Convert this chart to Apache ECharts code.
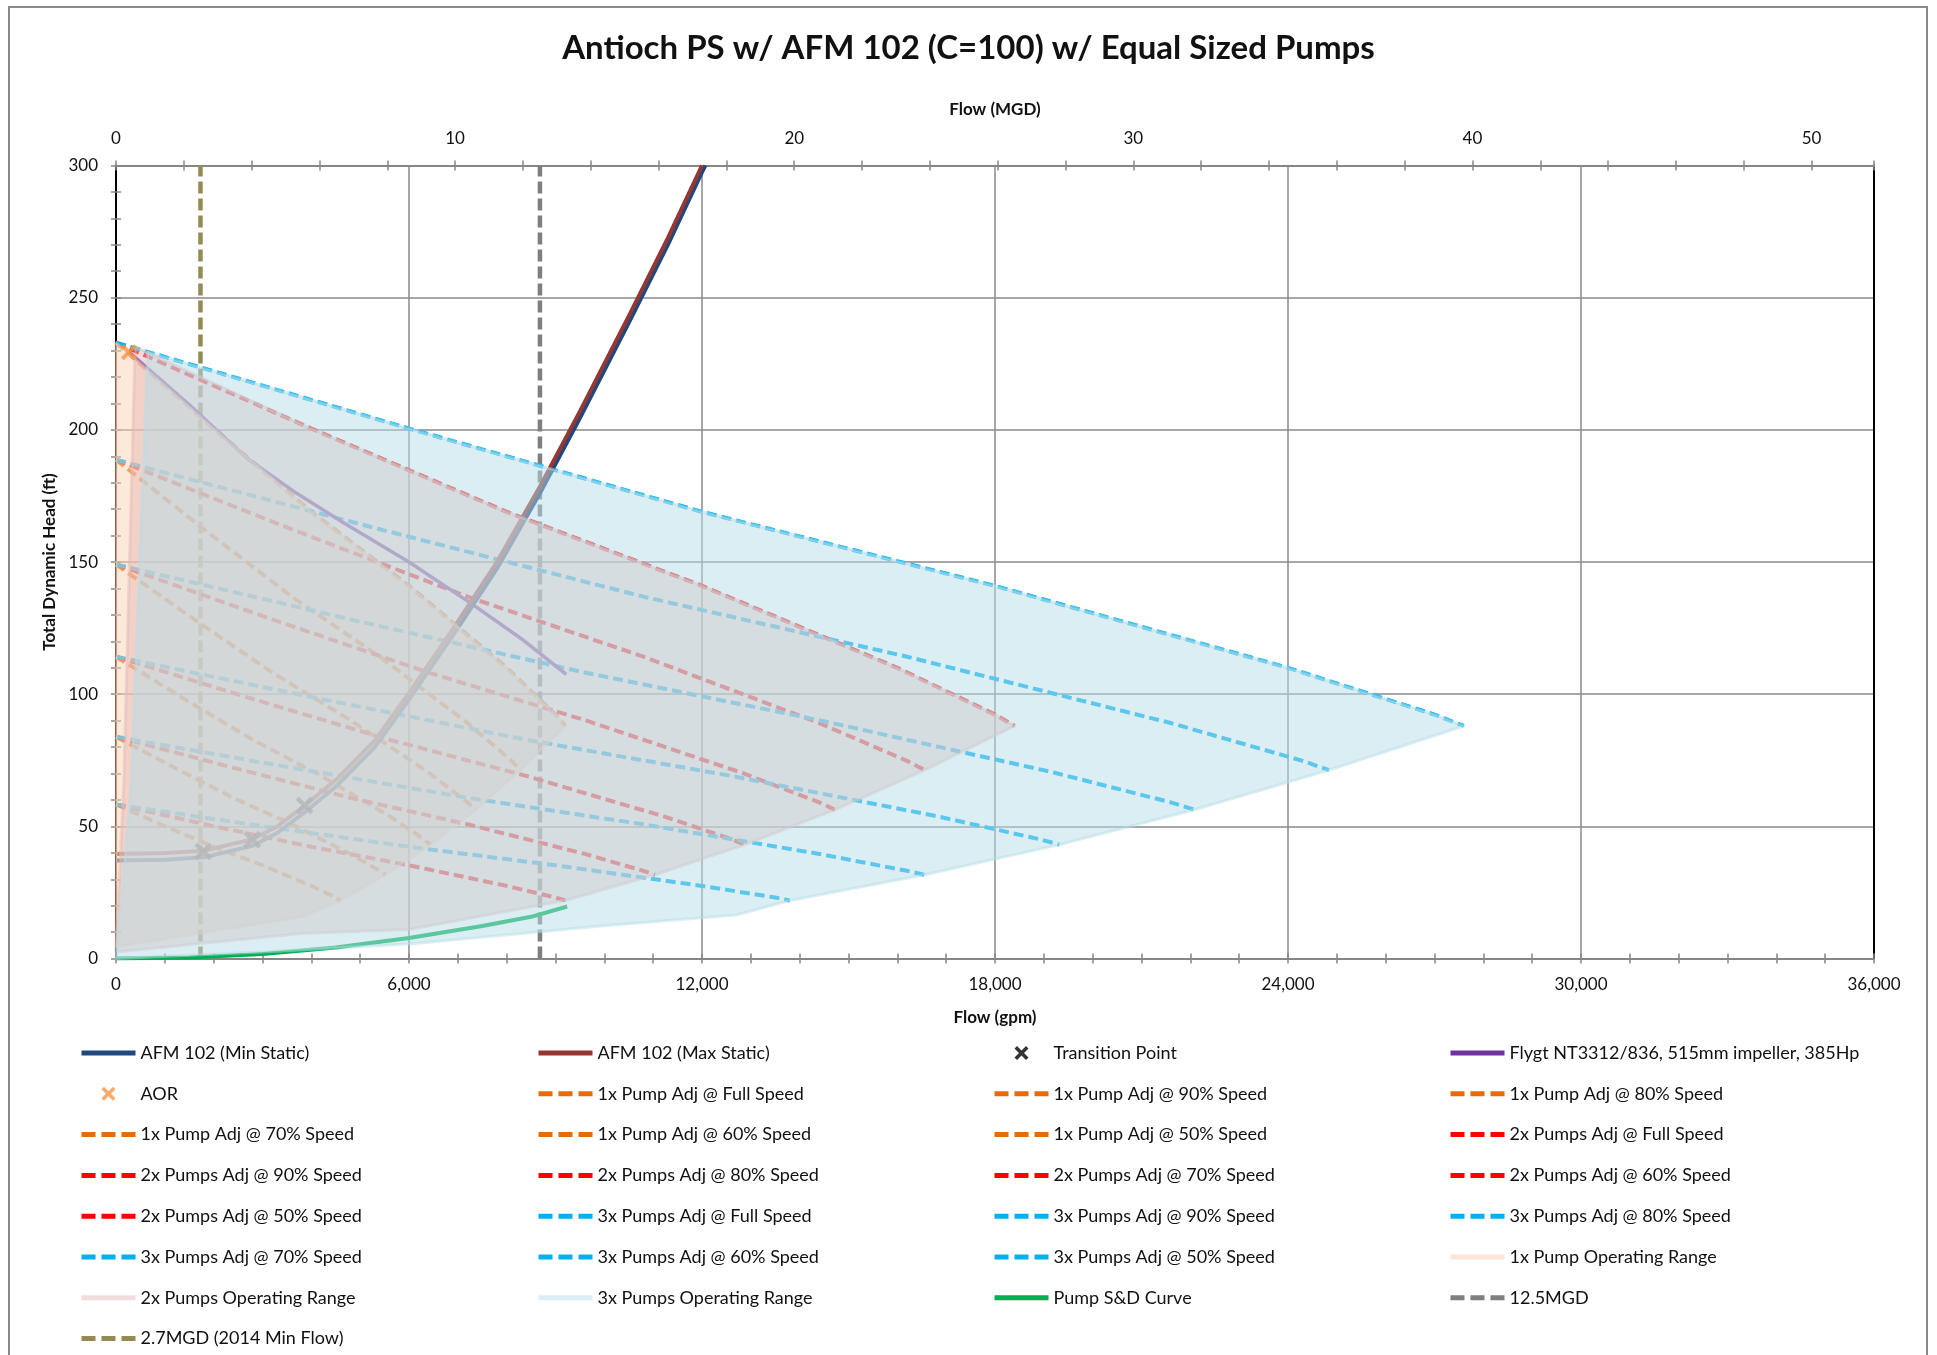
<!DOCTYPE html>
<html>
<head>
<meta charset="utf-8">
<title>Antioch PS w/ AFM 102 (C=100) w/ Equal Sized Pumps</title>
<script src="https://cdn.jsdelivr.net/npm/echarts@6.0.0/dist/echarts.min.js"></script>
<style>
  html, body { margin: 0; padding: 0; background: #fff; }
  #chart { width: 1937px; height: 1355px; }
</style>
</head>
<body>
<div id="chart"></div>
<script>
const FONT = 'Lato, "Noto Sans", sans-serif';

// ---------- axis ticks ----------
const gpmTicks  = [0, 6000, 12000, 18000, 24000, 30000, 36000];
const mgdTicks  = [0, 10, 20, 30, 40, 50];
const mgdMax    = 51.84;            // 36,000 gpm expressed in MGD
const headTicks = [0, 50, 100, 150, 200, 250, 300];

// ---------- system curves (flow gpm / head ft) ----------
const sysMaxFlow = [0, 1000, 1800, 2800, 3300, 3860, 4500, 5300, 6000, 7000, 7800, 8680, 9500, 10500, 11300, 12000];
const sysMaxHead = [39.6, 39.9, 40.8, 45.2, 50, 57.8, 67.5, 82.5, 100.5, 127.5, 150, 178.5, 207, 243, 272.5, 300];
const sysMinFlow = [0, 1000, 1800, 2800, 3300, 3860, 4500, 5300, 6000, 7000, 7800, 8680, 9500, 10500, 11300, 12000, 12070];
const sysMinHead = [37.1, 37.4, 38.3, 42.7, 47.5, 55.3, 65, 80, 98, 125, 147.5, 176, 204.5, 240.5, 270, 297.5, 300];

const transitionPts = [[1790, 40.5], [2790, 45], [3862, 57.9]];
const aorPts = [[265, 229.4]];

// Flygt NT3312/836 catalogue curve
const flygtFlow = [265, 1500, 2700, 3700, 4650, 6000, 7300, 8300, 9220];
const flygtHead = [229.4, 209.5, 189, 176, 165, 150, 134, 121, 107.5];

// Pump S&D curve
const sdFlow = [0, 1500, 3000, 4500, 6000, 7500, 8500, 9240];
const sdHead = [0, 0.4, 1.7, 4.2, 7.8, 12.3, 15.8, 19.7];

// Reference flows
const flow125mgd = 8681;
const flow27mgd = 1730;

// ---------- adjusted pump curves: head at each speed ----------
const headFull = [233, 200.5, 169, 141, 110, 92.3, 88];
const head90   = [188.7, 162.4, 136.9, 114.2, 89.1, 74.8, 71.3];
const head80   = [149.1, 128.3, 108.2, 90.2, 70.4, 59.1, 56.3];
const head70   = [114.2, 98.2, 82.8, 69.1, 53.9, 45.2, 43.1];
const head60   = [83.9, 72.2, 60.8, 50.8, 39.6, 33.2, 31.7];
const head50   = [58.3, 50.1, 42.3, 35.3, 27.5, 23.1, 22.0];

// flows for one pump
const flow1xFull = [0, 2000, 4000, 6000, 8000, 9000, 9200];
const flow1x90   = [0, 1800, 3600, 5400, 7200, 8100, 8280];
const flow1x80   = [0, 1600, 3200, 4800, 6400, 7200, 7360];
const flow1x70   = [0, 1400, 2800, 4200, 5600, 6300, 6440];
const flow1x60   = [0, 1200, 2400, 3600, 4800, 5400, 5520];
const flow1x50   = [0, 1000, 2000, 3000, 4000, 4500, 4600];
// flows for two pumps
const flow2xFull = [0, 4000, 8000, 12000, 16000, 18000, 18400];
const flow2x90   = [0, 3600, 7200, 10800, 14400, 16200, 16560];
const flow2x80   = [0, 3200, 6400, 9600, 12800, 14400, 14720];
const flow2x70   = [0, 2800, 5600, 8400, 11200, 12600, 12880];
const flow2x60   = [0, 2400, 4800, 7200, 9600, 10800, 11040];
const flow2x50   = [0, 2000, 4000, 6000, 8000, 9000, 9200];
// flows for three pumps
const flow3xFull = [0, 6000, 12000, 18000, 24000, 27000, 27600];
const flow3x90   = [0, 5400, 10800, 16200, 21600, 24300, 24840];
const flow3x80   = [0, 4800, 9600, 14400, 19200, 21600, 22080];
const flow3x70   = [0, 4200, 8400, 12600, 16800, 18900, 19320];
const flow3x60   = [0, 3600, 7200, 10800, 14400, 16200, 16560];
const flow3x50   = [0, 3000, 6000, 9000, 12000, 13500, 13800];

// ---------- operating range outlines ----------
const range1x = [[0, 233], [2000, 200.5], [4000, 169], [6000, 141], [8000, 110], [9000, 92.3], [9200, 88],
  [8280, 71.3], [7360, 56.3], [6440, 43.1], [5520, 31.7], [4600, 22], [3800, 15.8], [0, 4.5]];
const range2x = [[390, 231.5], [4000, 200.5], [8000, 169], [12000, 141], [16000, 110], [18000, 92.3], [18400, 88],
  [16560, 71.3], [14720, 56.3], [12880, 43.1], [11040, 31.7], [9200, 22], [6000, 11], [3800, 9.5], [0, 2.5], [160, 67]];
const range3x = [[650, 229.5], [6000, 200.5], [12000, 169], [18000, 141], [24000, 110], [27000, 92.3], [27600, 88],
  [24840, 71.3], [22080, 56.3], [19320, 43.1], [16560, 31.7], [13800, 22], [12700, 16.5], [10000, 12.4],
  [6000, 5.5], [3000, 2.5], [0, 0], [320, 67]];

// ---------- legend columns ----------
const legendCol1 = ['AFM 102 (Min Static)', 'AOR', '1x Pump Adj @ 70% Speed', '2x Pumps Adj @ 90% Speed',
  '2x Pumps Adj @ 50% Speed', '3x Pumps Adj @ 70% Speed', '2x Pumps Operating Range', '2.7MGD (2014 Min Flow)'];
const legendCol2 = ['AFM 102 (Max Static)', '1x Pump Adj @ Full Speed', '1x Pump Adj @ 60% Speed', '2x Pumps Adj @ 80% Speed',
  '3x Pumps Adj @ Full Speed', '3x Pumps Adj @ 60% Speed', '3x Pumps Operating Range'];
const legendCol3 = ['Transition Point', '1x Pump Adj @ 90% Speed', '1x Pump Adj @ 50% Speed', '2x Pumps Adj @ 70% Speed',
  '3x Pumps Adj @ 90% Speed', '3x Pumps Adj @ 50% Speed', 'Pump S&D Curve'];
const legendCol4 = ['Flygt NT3312/836, 515mm impeller, 385Hp', '1x Pump Adj @ 80% Speed', '2x Pumps Adj @ Full Speed',
  '2x Pumps Adj @ 60% Speed', '3x Pumps Adj @ 80% Speed', '1x Pump Operating Range', '12.5MGD'];

// ---------- styling ----------
const ORANGE = '#E46C0A', RED = '#FF0000', BLUE = '#00B0F0';
const GRID_GREY = '#8a8a8a';
const X_MARK = 'path://M0,2.5L2.5,0L7,4.5L11.5,0L14,2.5L9.5,7L14,11.5L11.5,14L7,9.5L2.5,14L0,11.5L4.5,7Z';

const zip = (xs, ys) => xs.map((x, i) => [x, ys[i]]);
const dashedNames = new Set();
const markerNames = new Set(['Transition Point', 'AOR']);

function lineSeries(name, data, color, width, dash) {
  if (dash) dashedNames.add(name);
  return {
    type: 'line', name, data, symbol: 'none', silent: true, z: 2,
    lineStyle: { color, width, type: dash || 'solid', cap: 'butt', join: 'round' },
    itemStyle: { color }
  };
}

function rangeFill(name, poly, fill) {
  return {
    type: 'custom', name, z: 4, silent: true,
    data: poly,
    encode: { x: 0, y: 1 },
    renderItem: (params, api) => {
      if (params.dataIndex !== 0) return;
      const pts = poly.map(p => api.coord(p));
      return {
        type: 'polygon',
        shape: { points: pts },
        style: { fill: fill, stroke: fill, lineWidth: 3, lineJoin: 'round' }
      };
    }
  };
}

const PUMP_DASH = [10, 5];
const pumpSpecs = [
  ['1x Pump Adj @ Full Speed', flow1xFull, headFull, ORANGE],
  ['1x Pump Adj @ 90% Speed',  flow1x90,   head90,   ORANGE],
  ['1x Pump Adj @ 80% Speed',  flow1x80,   head80,   ORANGE],
  ['1x Pump Adj @ 70% Speed',  flow1x70,   head70,   ORANGE],
  ['1x Pump Adj @ 60% Speed',  flow1x60,   head60,   ORANGE],
  ['1x Pump Adj @ 50% Speed',  flow1x50,   head50,   ORANGE],
  ['2x Pumps Adj @ Full Speed', flow2xFull, headFull, RED],
  ['2x Pumps Adj @ 90% Speed',  flow2x90,   head90,   RED],
  ['2x Pumps Adj @ 80% Speed',  flow2x80,   head80,   RED],
  ['2x Pumps Adj @ 70% Speed',  flow2x70,   head70,   RED],
  ['2x Pumps Adj @ 60% Speed',  flow2x60,   head60,   RED],
  ['2x Pumps Adj @ 50% Speed',  flow2x50,   head50,   RED],
  ['3x Pumps Adj @ Full Speed', flow3xFull, headFull, BLUE],
  ['3x Pumps Adj @ 90% Speed',  flow3x90,   head90,   BLUE],
  ['3x Pumps Adj @ 80% Speed',  flow3x80,   head80,   BLUE],
  ['3x Pumps Adj @ 70% Speed',  flow3x70,   head70,   BLUE],
  ['3x Pumps Adj @ 60% Speed',  flow3x60,   head60,   BLUE],
  ['3x Pumps Adj @ 50% Speed',  flow3x50,   head50,   BLUE]
];

const series = [
  lineSeries('12.5MGD', [[flow125mgd, headTicks[0]], [flow125mgd, headTicks[headTicks.length - 1]]], '#7F7F7F', 4.5, [12, 5]),
  lineSeries('2.7MGD (2014 Min Flow)', [[flow27mgd, headTicks[0]], [flow27mgd, headTicks[headTicks.length - 1]]], '#948A54', 4.5, [12, 5]),
  lineSeries('Pump S&D Curve', zip(sdFlow, sdHead), '#00B050', 4),
  ...pumpSpecs.map(([n, f, h, c]) => lineSeries(n, zip(f, h), c, 4, PUMP_DASH)),
  lineSeries('Flygt NT3312/836, 515mm impeller, 385Hp', zip(flygtFlow, flygtHead), '#7030A0', 3.5),
  lineSeries('AFM 102 (Min Static)', zip(sysMinFlow, sysMinHead), '#1F497D', 4),
  lineSeries('AFM 102 (Max Static)', zip(sysMaxFlow, sysMaxHead), '#953735', 4),
  {
    type: 'scatter', name: 'Transition Point', data: transitionPts, symbol: X_MARK, symbolSize: 18,
    itemStyle: { color: '#000' }, z: 3, silent: true
  },
  {
    type: 'scatter', name: 'AOR', data: aorPts, symbol: X_MARK, symbolSize: 16,
    itemStyle: { color: '#F79646' }, z: 5, silent: true
  },
  // legend swatches for the operating ranges
  lineSeries('1x Pump Operating Range', [], '#FCE4D6', 6),
  lineSeries('2x Pumps Operating Range', [], '#F2DCDB', 6),
  lineSeries('3x Pumps Operating Range', [], '#DAEEF3', 6),
  rangeFill('1x Pump Operating Range', range1x, 'rgba(251,212,180,0.5)'),
  rangeFill('2x Pumps Operating Range', range2x, 'rgba(230,185,184,0.5)'),
  rangeFill('3x Pumps Operating Range', range3x, 'rgba(183,222,232,0.5)')
];

function legendItem(name) {
  if (markerNames.has(name)) return { name };
  const item = { name, itemStyle: { opacity: 0 } };
  if (dashedNames.has(name)) item.lineStyle = { type: [14, 6], cap: 'butt', width: 5 };
  else item.lineStyle = { width: 5 };
  return item;
}

const ROW_PITCH = 40.8, ITEM_H = 22;
function legendColumn(left, names) {
  return {
    orient: 'vertical', left, top: 1042, height: 360,
    itemWidth: 54, itemHeight: 14, itemGap: ROW_PITCH - ITEM_H,
    selectedMode: false, padding: 0,
    lineStyle: { width: 'inherit' },
    textStyle: { fontFamily: FONT, fontSize: 18, color: '#111', lineHeight: ITEM_H },
    data: names.map(legendItem)
  };
}

const tickStyle = { color: '#868686', width: 1.5 };
const labelStyle = { fontFamily: FONT, fontSize: 17, color: '#111' };
const nameStyle = { fontFamily: FONT, fontSize: 17, fontWeight: 'bold', color: '#111' };
const gridRect = { left: 116, top: 165.5, right: 63, bottom: 396.4 };

const option = {
  animation: false,
  backgroundColor: '#fff',
  title: {
    text: 'Antioch PS w/ AFM 102 (C=100) w/ Equal Sized Pumps',
    left: 'center', top: 27,
    textStyle: { fontFamily: FONT, fontSize: 33, fontWeight: 'bold', color: '#111' }
  },
  graphic: [{
    type: 'rect', silent: true, z: -10,
    shape: { x: 9, y: 7, width: 1918, height: 1370 },
    style: { fill: 'none', stroke: '#898989', lineWidth: 2 }
  }],
  legend: [
    legendColumn(79, legendCol1),
    legendColumn(536, legendCol2),
    legendColumn(992, legendCol3),
    legendColumn(1448, legendCol4)
  ],
  grid: [
    Object.assign({ containLabel: false }, gridRect),
    Object.assign({ containLabel: false }, gridRect)
  ],
  xAxis: [
    {
      type: 'value', gridIndex: 0, position: 'bottom',
      min: gpmTicks[0], max: gpmTicks[gpmTicks.length - 1], interval: gpmTicks[1] - gpmTicks[0],
      name: 'Flow (gpm)', nameLocation: 'middle', nameGap: 50, nameTextStyle: nameStyle,
      axisLine: { onZero: false, lineStyle: { color: '#868686', width: 2 } },
      axisTick: { show: true, inside: false, length: 5, lineStyle: tickStyle },
      minorTick: { show: true, splitNumber: 6, length: 5, lineStyle: tickStyle },
      axisLabel: Object.assign({ margin: 17 }, labelStyle),
      splitLine: { show: true, lineStyle: { color: GRID_GREY, width: 1.5 } }
    },
    {
      type: 'value', gridIndex: 0, position: 'top',
      min: mgdTicks[0], max: mgdMax, interval: mgdTicks[1] - mgdTicks[0],
      name: 'Flow (MGD)', nameLocation: 'middle', nameGap: 47, nameTextStyle: nameStyle,
      axisLine: { onZero: false, lineStyle: { color: '#868686', width: 2 } },
      axisTick: { show: true, inside: false, length: 5, lineStyle: tickStyle },
      minorTick: { show: true, splitNumber: 5, length: 5, lineStyle: tickStyle },
      axisLabel: Object.assign({
        margin: 18,
        formatter: v => (mgdTicks.indexOf(v) >= 0 ? String(v) : '')
      }, labelStyle),
      splitLine: { show: false }
    },
    // inner halves of the crossing tick marks
    {
      type: 'value', gridIndex: 1, position: 'bottom',
      min: gpmTicks[0], max: gpmTicks[gpmTicks.length - 1], interval: gpmTicks[1] - gpmTicks[0],
      axisLine: { show: false, onZero: false },
      axisTick: { show: true, inside: true, length: 5, lineStyle: tickStyle },
      minorTick: { show: true, splitNumber: 6, length: 5, lineStyle: tickStyle },
      axisLabel: { show: false }, splitLine: { show: false }
    },
    {
      type: 'value', gridIndex: 1, position: 'top',
      min: mgdTicks[0], max: mgdMax, interval: mgdTicks[1] - mgdTicks[0],
      axisLine: { show: false, onZero: false },
      axisTick: { show: true, inside: true, length: 5, lineStyle: tickStyle },
      minorTick: { show: true, splitNumber: 5, length: 5, lineStyle: tickStyle },
      axisLabel: { show: false }, splitLine: { show: false }
    }
  ],
  yAxis: [
    {
      type: 'value', gridIndex: 0, position: 'left',
      min: headTicks[0], max: headTicks[headTicks.length - 1], interval: headTicks[1] - headTicks[0],
      name: 'Total Dynamic Head (ft)', nameLocation: 'middle', nameGap: 58, nameRotate: 90, nameTextStyle: nameStyle,
      axisLine: { show: true, onZero: false, lineStyle: { color: '#000', width: 2 } },
      axisTick: { show: true, inside: false, length: 5, lineStyle: tickStyle },
      minorTick: { show: true, splitNumber: 5, length: 5, lineStyle: tickStyle },
      axisLabel: Object.assign({ margin: 18 }, labelStyle),
      splitLine: { show: true, lineStyle: { color: GRID_GREY, width: 1.5 } }
    },
    {
      type: 'value', gridIndex: 0, position: 'right',
      min: headTicks[0], max: headTicks[headTicks.length - 1], interval: headTicks[1] - headTicks[0],
      axisLine: { show: true, onZero: false, lineStyle: { color: '#000', width: 2 } },
      axisTick: { show: false }, axisLabel: { show: false }, splitLine: { show: false }
    },
    {
      type: 'value', gridIndex: 1, position: 'left',
      min: headTicks[0], max: headTicks[headTicks.length - 1], interval: headTicks[1] - headTicks[0],
      axisLine: { show: false, onZero: false },
      axisTick: { show: true, inside: true, length: 5, lineStyle: tickStyle },
      minorTick: { show: true, splitNumber: 5, length: 5, lineStyle: tickStyle },
      axisLabel: { show: false }, splitLine: { show: false }
    }
  ],
  series: series.map(s => Object.assign({ xAxisIndex: 0, yAxisIndex: 0 }, s))
};

const chart = echarts.init(document.getElementById('chart'), null, { renderer: 'canvas', width: 1937, height: 1355 });
chart.setOption(option);
</script>
</body>
</html>
